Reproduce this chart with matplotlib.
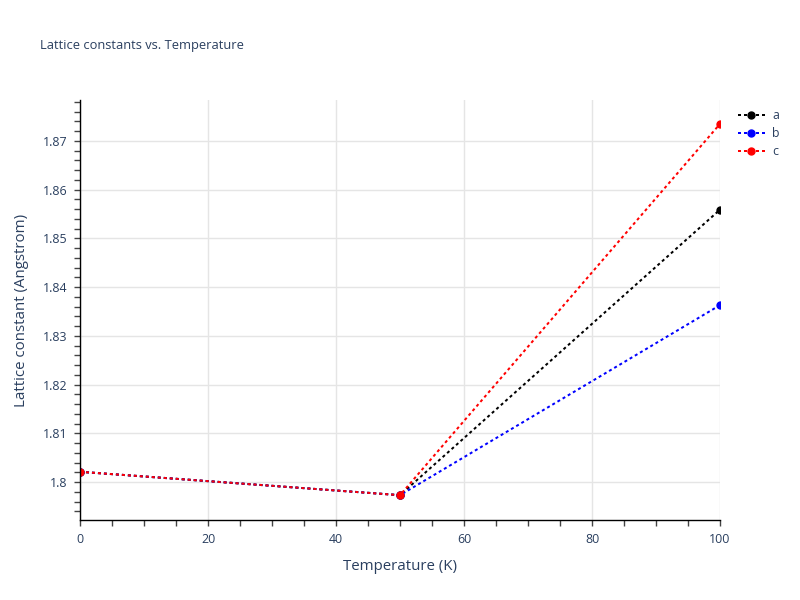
import matplotlib.pyplot as plt
from matplotlib.ticker import MultipleLocator

plt.rcParams['font.family'] = ['Open Sans', 'DejaVu Sans']

temperature = [0, 50, 100]
lattice_a = [1.8021, 1.7973, 1.8559]
lattice_b = [1.8021, 1.7973, 1.8363]
lattice_c = [1.8021, 1.7973, 1.8735]

text_color = '#2a3f5f'
grid_color = '#e5e5e5'

fig = plt.figure(figsize=(8, 6), dpi=100)
ax = fig.add_axes([0.1, 0.1333, 0.8, 0.7])

dot = (0, (1.5, 1.5))
for vals, col, name in [(lattice_a, 'black', 'a'),
                        (lattice_b, 'blue', 'b'),
                        (lattice_c, 'red', 'c')]:
    ax.plot(temperature, vals, color=col, linestyle=dot, linewidth=1.44,
            marker='o', markersize=5, label=name, clip_on=True)

ax.set_xlim(0, 100)
ax.set_ylim(1.7922, 1.8784)
ax.xaxis.set_major_locator(MultipleLocator(20))
ax.xaxis.set_minor_locator(MultipleLocator(5))
ax.yaxis.set_major_locator(MultipleLocator(0.01))
ax.yaxis.set_minor_locator(MultipleLocator(0.002))
ax.yaxis.set_major_formatter(plt.FuncFormatter(lambda v, p: f'{v:.2f}'.rstrip('0').rstrip('.')))

ax.grid(True, which='major', color=grid_color, linewidth=1)
ax.set_axisbelow(True)
for s in ['top', 'right']:
    ax.spines[s].set_visible(False)
for s in ['left', 'bottom']:
    ax.spines[s].set_color('black')
    ax.spines[s].set_linewidth(1)

ax.tick_params(which='both', direction='out', color='#444444', labelcolor=text_color,
               labelsize=8.9, width=1)
ax.tick_params(which='major', length=4, pad=5)
ax.tick_params(which='minor', length=4)

ax.set_xlabel('Temperature (K)', fontsize=10.8, color=text_color, labelpad=10)
ax.set_ylabel('Lattice constant (Angstrom)', fontsize=10.8, color=text_color, labelpad=10)

fig.text(0.05, 0.925, 'Lattice constants vs. Temperature', fontsize=9.3,
         color=text_color, va='center', ha='left')

leg = ax.legend(loc='upper left', bbox_to_anchor=(1.01, 1.005), frameon=False,
                fontsize=8.9, handlelength=2.2, handletextpad=0.6, labelspacing=0.42)
for t in leg.get_texts():
    t.set_color(text_color)

plt.savefig('out.png', dpi=100)
